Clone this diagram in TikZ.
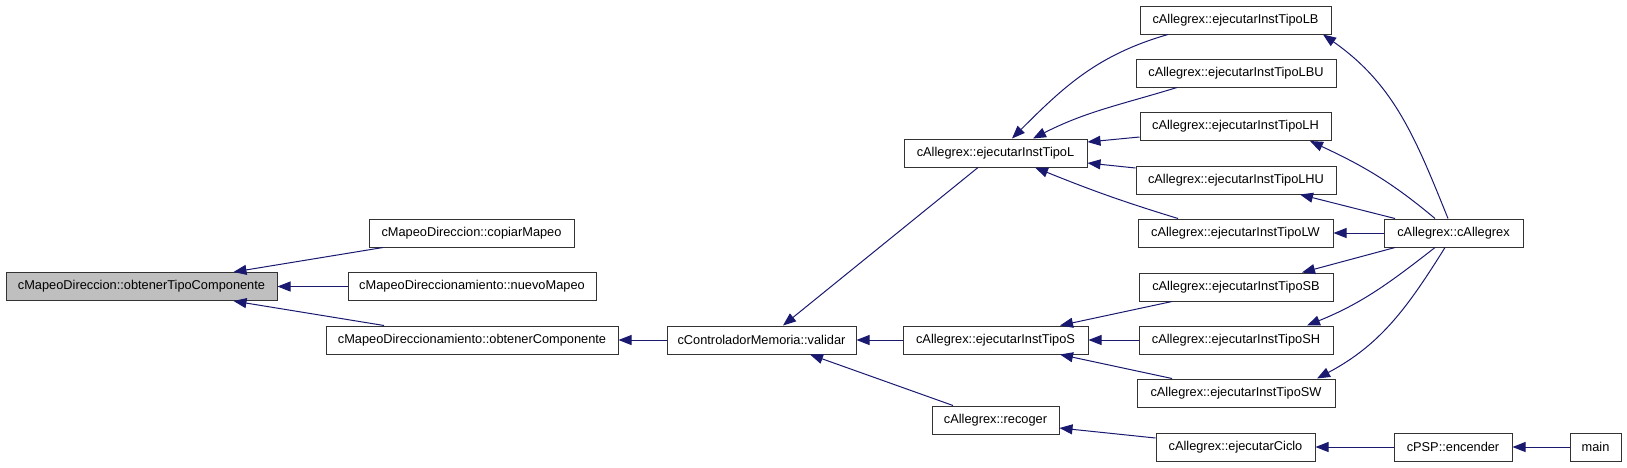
\documentclass[tikz,border=0pt]{standalone}
\usepackage{fontspec}
\setmainfont{Liberation Sans}
\usetikzlibrary{arrows.meta}
\definecolor{edgeblue}{HTML}{191970}
\definecolor{hlgray}{HTML}{BFBFBF}
\begin{document}
\begin{tikzpicture}[x=1pt,y=1pt,
  fn/.style={draw=black!80, line width=1pt, rectangle, inner sep=0pt, minimum height=28pt,
    font=\fontsize{12.8}{15}\selectfont, text=black},
  edge/.style={draw=edgeblue, line width=1pt, -{Triangle[length=13pt,width=10pt]}, fill=none}]
\useasboundingbox (0,0) rectangle (1627,-467);
% nodes
\node[fn, fill=hlgray, minimum width=271pt] (obt) at (141.5,-286.5) {cMapeoDireccion::obtenerTipoComponente};
\node[fn, minimum width=205pt] (copiar) at (471.5,-233) {cMapeoDireccion::copiarMapeo};
\node[fn, minimum width=248pt] (nuevo) at (472,-286.5) {cMapeoDireccionamiento::nuevoMapeo};
\node[fn, minimum width=292pt] (obtComp) at (472,-340) {cMapeoDireccionamiento::obtenerComponente};
\node[fn, minimum width=189pt] (validar) at (761.5,-340) {cControladorMemoria::validar};
\node[fn, minimum width=183pt] (L) at (995.5,-153) {cAllegrex::ejecutarInstTipoL};
\node[fn, minimum width=185pt] (S) at (995.5,-340) {cAllegrex::ejecutarInstTipoS};
\node[fn, minimum width=127pt] (recoger) at (995.5,-420) {cAllegrex::recoger};
\node[fn, minimum width=191pt] (LB) at (1235.5,-20) {cAllegrex::ejecutarInstTipoLB};
\node[fn, minimum width=200pt] (LBU) at (1236,-73) {cAllegrex::ejecutarInstTipoLBU};
\node[fn, minimum width=191pt] (LH) at (1235.5,-126.5) {cAllegrex::ejecutarInstTipoLH};
\node[fn, minimum width=200pt] (LHU) at (1236,-180) {cAllegrex::ejecutarInstTipoLHU};
\node[fn, minimum width=195pt] (LW) at (1235.5,-233) {cAllegrex::ejecutarInstTipoLW};
\node[fn, minimum width=194pt] (SB) at (1236,-287) {cAllegrex::ejecutarInstTipoSB};
\node[fn, minimum width=194pt] (SH) at (1236,-340) {cAllegrex::ejecutarInstTipoSH};
\node[fn, minimum width=198pt] (SW) at (1236,-393) {cAllegrex::ejecutarInstTipoSW};
\node[fn, minimum width=139pt] (cA) at (1453.5,-233) {cAllegrex::cAllegrex};
\node[fn, minimum width=159pt] (ciclo) at (1235.5,-447) {cAllegrex::ejecutarCiclo};
\node[fn, minimum width=118pt] (encender) at (1453,-447) {cPSP::encender};
\node[fn, minimum width=51pt] (main) at (1595.5,-447) {main};
% edges (caller -> callee)
\draw[edge] ([xshift=-88.5pt]copiar.south) -- ([xshift=92pt]obt.north);
\draw[edge] (nuevo.west) -- (obt.east);
\draw[edge] ([xshift=-88pt]obtComp.north) -- ([xshift=92pt]obt.south);
\draw[edge] (validar.west) -- (obtComp.east);
\draw[edge] ([xshift=-17.5pt]L.south) -- ([xshift=21.5pt]validar.north);
\draw[edge] (S.west) -- (validar.east);
\draw[edge] ([xshift=-42.5pt]recoger.north) -- ([xshift=48.5pt]validar.south);
\draw[edge] ([xshift=-67.5pt]LB.south) to[out=196,in=45] ([xshift=16.5pt]L.north);
\draw[edge] ([xshift=-59pt]LBU.south) to[out=197,in=27] ([xshift=37.5pt]L.north);
\draw[edge] ([yshift=-10.5pt]LH.west) -- ([yshift=11pt]L.east);
\draw[edge] ([yshift=12pt]LHU.west) -- ([yshift=-10pt]L.east);
\draw[edge] ([xshift=-57.5pt]LW.north) to[out=163,in=-22] ([xshift=39.5pt]L.south);
\draw[edge] ([xshift=-64pt]SB.south) -- ([xshift=64.5pt]S.north);
\draw[edge] (SH.west) -- (S.east);
\draw[edge] ([xshift=-64pt]SW.north) -- ([xshift=64.5pt]S.south);
\draw[edge] ([yshift=9pt]ciclo.west) -- ([yshift=-8pt]recoger.east);
\draw[edge] ([xshift=-5.5pt]cA.north) to[out=112,in=-35] ([xshift=87.5pt]LB.south);
\draw[edge] ([xshift=-18.5pt]cA.north) to[out=140,in=-25] ([xshift=74.5pt]LH.south);
\draw[edge] ([xshift=-58.5pt]cA.north) -- ([xshift=64pt]LHU.south);
\draw[edge] (cA.west) -- (LW.east);
\draw[edge] ([xshift=-58.5pt]cA.south) -- ([xshift=66pt]SB.north);
\draw[edge] ([xshift=-18.5pt]cA.south) to[out=218,in=22] ([xshift=71pt]SH.north);
\draw[edge] ([xshift=-8.5pt]cA.south) to[out=238,in=28] ([xshift=81pt]SW.north);
\draw[edge] (encender.west) -- (ciclo.east);
\draw[edge] (main.west) -- (encender.east);
\end{tikzpicture}
\end{document}
